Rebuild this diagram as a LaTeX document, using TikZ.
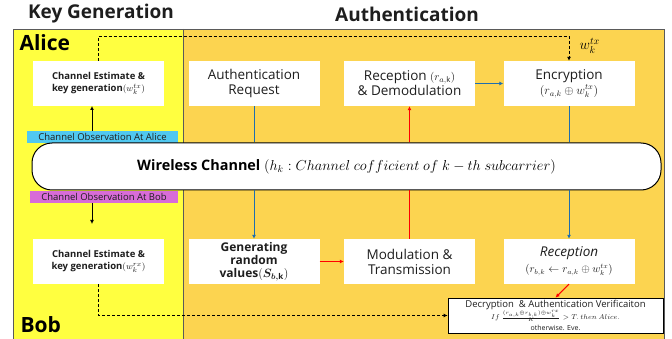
\documentclass[tikz,border=0pt]{standalone}
\usepackage{fontspec}
\setmainfont{Open Sans}
\setsansfont{Open Sans}
\usepackage{amsmath,amssymb}
\usetikzlibrary{arrows.meta}

\definecolor{keyyellow}{RGB}{255,255,64}
\definecolor{authorange}{RGB}{252,212,80}
\definecolor{obscyan}{RGB}{80,200,240}
\definecolor{obsmagenta}{RGB}{216,108,216}
\definecolor{flowblue}{RGB}{30,110,175}
\definecolor{framegray}{RGB}{90,90,90}
\definecolor{txt}{RGB}{30,30,30}

\newcommand{\fsz}[1]{\fontsize{#1}{#1}\selectfont}

\tikzset{
  whitebox/.style={fill=white, draw=none, minimum width=131pt, minimum height=45pt,
    align=center, inner sep=1pt, text=txt},
  boldtxt/.style={font=\fontsize{9.5}{12}\selectfont\bfseries},
  plaintxt/.style={font=\fontsize{13.5}{15}\selectfont},
  obsbox/.style={draw=none, minimum height=12pt, inner sep=0pt,
    font=\fontsize{9.5}{10}\selectfont, text=txt},
  title/.style={font=\fontsize{19}{21}\selectfont\bfseries, text=txt},
  party/.style={font=\fontsize{21}{23}\selectfont\bfseries, text=black, anchor=west},
  tip/.style={-{Latex[length=4pt,width=4pt]}},
  blueflow/.style={draw=flowblue, line width=1pt},
  redflow/.style={draw=red, line width=1pt},
  keyflow/.style={draw=black, line width=0.8pt, dash pattern=on 3pt off 2pt},
}

\begin{document}
\begin{tikzpicture}[x=1pt,y=-1pt]
\useasboundingbox (0,0) rectangle (672,339);

% phase backgrounds
\fill[keyyellow] (13,29) rectangle (183,339);
\fill[authorange] (183,29) rectangle (664,339);
\draw[framegray, line width=0.8pt] (13,339) -- (13,29) -- (664,29) -- (664,339);
\draw[framegray, line width=0.8pt] (183,29) -- (183,339);

% phase titles and parties
\node[title] (tkey) at (101,14) {Key Generation};
\node[title] (tauth) at (407,14) {Authentication};
\node[party] (alice) at (16,43) {Alice};
\node[party] (bob) at (17,325) {Bob};

% Alice side
\node[whitebox, boldtxt] (aliceKG) at (98.5,83.5) {Channel Estimate \&\\key generation$(w_k^{tx})$};
\node[whitebox, plaintxt] (authReq) at (254,83.5) {Authentication\\Request};
\node[whitebox, plaintxt] (recvA) at (409.5,83.5) {Reception {\fsz{11}$(r_{a,\mathrm{k}})$}\\\& Demodulation};
\node[whitebox, plaintxt] (encr) at (569,83.5) {Encryption\\{\fsz{11.5}$(r_{a,k}\oplus w_k^{tx})$}};

% observations and channel
\node[obsbox, fill=obscyan, minimum width=151pt] (obsA) at (102.5,137) {Channel Observation At Alice};
\node[draw=black, line width=1pt, fill=white, rounded corners=20pt,
      minimum width=629pt, minimum height=47pt, inner sep=0pt] (channel) at (346.5,166.5)
      {\fsz{14.4}\textbf{Wireless Channel} $(h_k : Channel\ cofficient\ of\ k-th\ subcarrier)$};
\node[obsbox, fill=obsmagenta, minimum width=148pt] (obsB) at (104,197) {Channel Observation At Bob};

% Bob side
\node[whitebox, boldtxt] (bobKG) at (98.5,261.5) {Channel Estimate \&\\key generation$(w_k^{rx})$};
\node[whitebox, font=\fontsize{12}{13}\selectfont\bfseries] (genRand) at (254,261.5) {Generating\\random\\values$(\boldsymbol{S_{b,\mathrm{k}}})$};
\node[whitebox, plaintxt] (modTx) at (409.5,261.5) {Modulation \&\\Transmission};
\node[whitebox, plaintxt] (recvB) at (569,261.5) {\textit{Reception}\\[1pt]{\fsz{10.5}$(r_{b,k}\leftarrow r_{a,k}\oplus w_k^{tx})$}};
\node[draw=black, line width=0.8pt, fill=white, minimum width=215pt, minimum height=35pt,
      inner sep=1pt, align=center, text=txt] (decr) at (555.5,315.5)
      {\fontsize{9.5}{10}\selectfont Decryption \ \& Authentication Verificaiton\\
       \fontsize{7}{8}\selectfont $If\ \frac{(r_{a,k}\oplus r_{b,k})\oplus w_k^{rx}}{K} > T.\,then\ Alice.$\\[-1pt]
       \fontsize{7}{8}\selectfont otherwise. Eve.};

% channel observations feeding key generation
\coordinate (bobObsEnd) at (92,224);
\draw[tip, line width=0.8pt] (92,131) -- (92,106);
\draw[tip, line width=0.8pt] (obsB.south -| bobObsEnd) -- (bobObsEnd);

% authentication request path
\draw[blueflow] (authReq.south) -- (authReq.south |- channel.north);
\draw[blueflow, tip] (authReq.south |- channel.south) -- (genRand.north);
\draw[redflow, tip] (genRand.east) -- (modTx.west);
\draw[redflow] (modTx.north) -- (modTx.north |- channel.south);
\draw[redflow, tip] (modTx.north |- channel.north) -- (recvA.south);
\draw[blueflow, tip] (recvA.east) -- (encr.west);
\draw[blueflow] (encr.south) -- (encr.south |- channel.north);
\draw[blueflow, tip] (encr.south |- channel.south) -- (recvB.north);
\draw[redflow, tip] (recvB.south) -- (decr.north);

% shared keys
\coordinate (keyTop) at (0,36);
\draw[keyflow, tip] (aliceKG.north) -- (aliceKG.north |- keyTop) -- (encr.north |- keyTop) -- (encr.north);
\node[anchor=west, font=\fontsize{14.4}{15}\selectfont] (wlabel) at (576,46) {$w_k^{tx}$};
\draw[keyflow, tip] (bobKG.south) |- (decr.west);

\end{tikzpicture}
\end{document}
